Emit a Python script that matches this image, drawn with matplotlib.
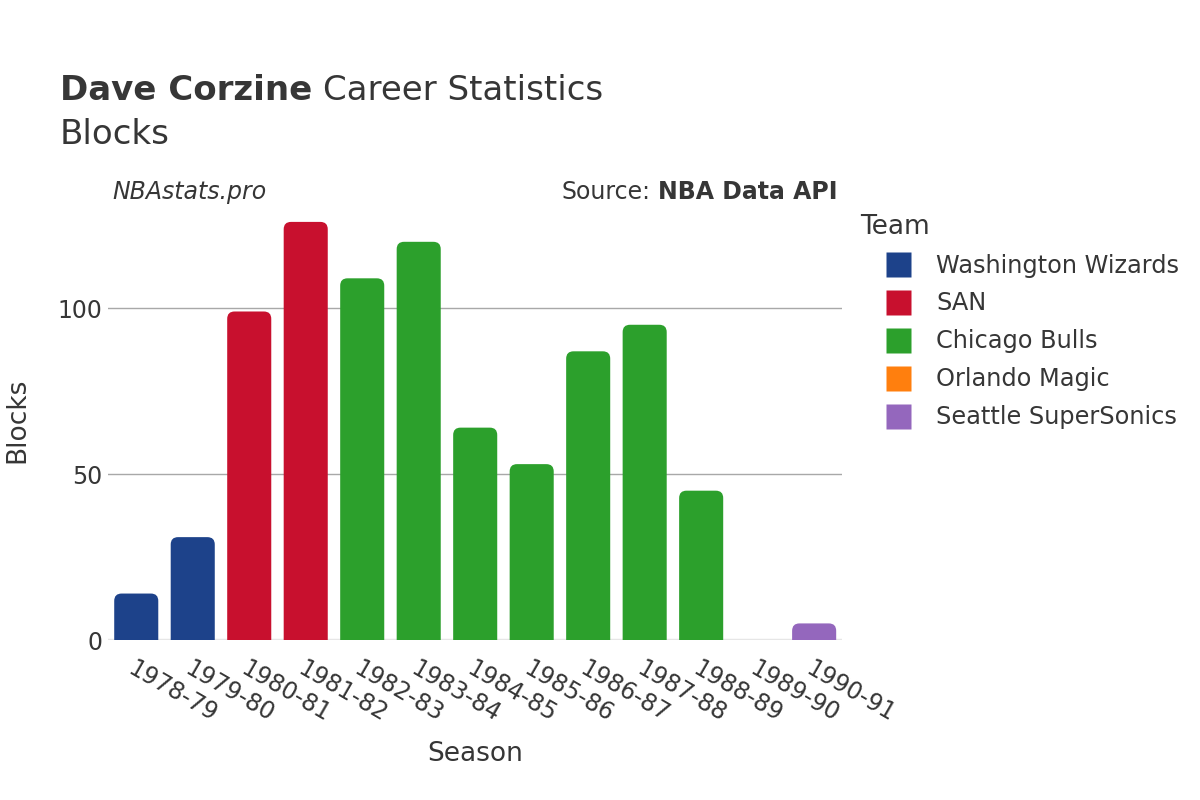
import matplotlib.pyplot as plt
from matplotlib.patches import FancyBboxPatch
from matplotlib.lines import Line2D

plt.rcParams['font.family'] = ['DejaVu Sans']

# data
seasons = ['1978-79', '1979-80', '1980-81', '1981-82', '1982-83', '1983-84', '1984-85',
           '1985-86', '1986-87', '1987-88', '1988-89', '1989-90', '1990-91']
blocks = [14, 31, 99, 126, 109, 120, 64, 53, 87, 95, 45, 0, 5]
teams = ['Washington Wizards', 'Washington Wizards', 'SAN', 'SAN', 'Chicago Bulls',
         'Chicago Bulls', 'Chicago Bulls', 'Chicago Bulls', 'Chicago Bulls',
         'Chicago Bulls', 'Chicago Bulls', 'Orlando Magic', 'Seattle SuperSonics']
team_order = ['Washington Wizards', 'SAN', 'Chicago Bulls', 'Orlando Magic', 'Seattle SuperSonics']
team_colors = {'Washington Wizards': '#1d428a', 'SAN': '#c8102e', 'Chicago Bulls': '#2ca02c',
               'Orlando Magic': '#ff7f0e', 'Seattle SuperSonics': '#9467bd'}

txt = '#363636'
fig = plt.figure(figsize=(12, 8), dpi=100)
ax = fig.add_axes([0.09, 0.2, 0.612, 0.55])

x = list(range(len(seasons)))
ymax = 132.6
ax.set_xlim(-0.5, len(seasons) - 0.5)
ax.set_ylim(0, ymax)

bars = ax.bar(x, blocks, width=0.78, color=[team_colors[t] for t in teams])

# swap plain bars for top-rounded ones
w_px = 0.612 * 1200
h_px = 0.55 * 800
aspect = (ymax / h_px) / (len(seasons) / w_px)
for b in bars:
    b.set_visible(False)
    if b.get_height() <= 0:
        continue
    r = 0.13
    p = FancyBboxPatch((b.get_x(), -r * aspect * 2), b.get_width(), b.get_height() + r * aspect * 2,
                       boxstyle='round,pad=0,rounding_size=%f' % r, mutation_aspect=aspect,
                       facecolor=b.get_facecolor(), edgecolor='none', zorder=3)
    ax.add_patch(p)

ax.set_yticks([0, 50, 100])
ax.yaxis.grid(True, color='#a8a8a8', linewidth=1)
ax.axhline(0, color='#e6e6e6', linewidth=2.5, zorder=2)
ax.set_axisbelow(True)
for s in ax.spines.values():
    s.set_visible(False)
ax.tick_params(axis='both', length=0, labelsize=17, labelcolor=txt)
ax.tick_params(axis='y', pad=4)
ax.set_xticks(x)
ax.set_xticklabels(seasons, rotation=-30, ha='left', va='top', rotation_mode='anchor')
ax.tick_params(axis='x', pad=12)

ax.set_xlabel('Season', fontsize=19, color=txt, labelpad=10)
fig.text(17 / 1200, 1 - 420 / 800, 'Blocks', fontsize=19, color=txt, rotation=90,
         ha='center', va='center')

t1 = fig.text(0.05, 0.866, 'Dave Corzine', fontsize=24.5, color=txt, va='bottom', fontweight='bold')
fig.canvas.draw()
bb = t1.get_window_extent()
fig.text(bb.x1 / 1200 + 0.009, 0.866, 'Career Statistics', fontsize=24.5, color=txt, va='bottom')
fig.text(0.05, 0.811, 'Blocks', fontsize=24.5, color=txt, va='bottom')

fig.text(0.094, 0.76, 'NBAstats.pro', fontsize=17, color=txt, style='italic', va='center')
src = fig.text(0.698, 0.76, 'NBA Data API', fontsize=17, color=txt, fontweight='bold',
               va='center', ha='right')
fig.canvas.draw()
sb = src.get_window_extent()
fig.text(sb.x0 / 1200 - 0.006, 0.76, 'Source:', fontsize=17, color=txt, va='center', ha='right')

handles = [Line2D([0], [0], marker='s', linestyle='none', markersize=18,
                  markerfacecolor=team_colors[t], markeredgecolor='none') for t in team_order]
leg = fig.legend(handles, team_order, loc='upper left', bbox_to_anchor=(0.72, 0.745),
                 frameon=False, fontsize=17.3, title='Team', title_fontsize=19,
                 labelspacing=0.58, handletextpad=0.6, borderaxespad=0)
leg._legend_box.align = 'left'
leg.get_title().set_position((-13, 0))
for tx in leg.get_texts():
    tx.set_color(txt)
leg.get_title().set_color(txt)

fig.savefig('out.png', dpi=100, facecolor='white')
